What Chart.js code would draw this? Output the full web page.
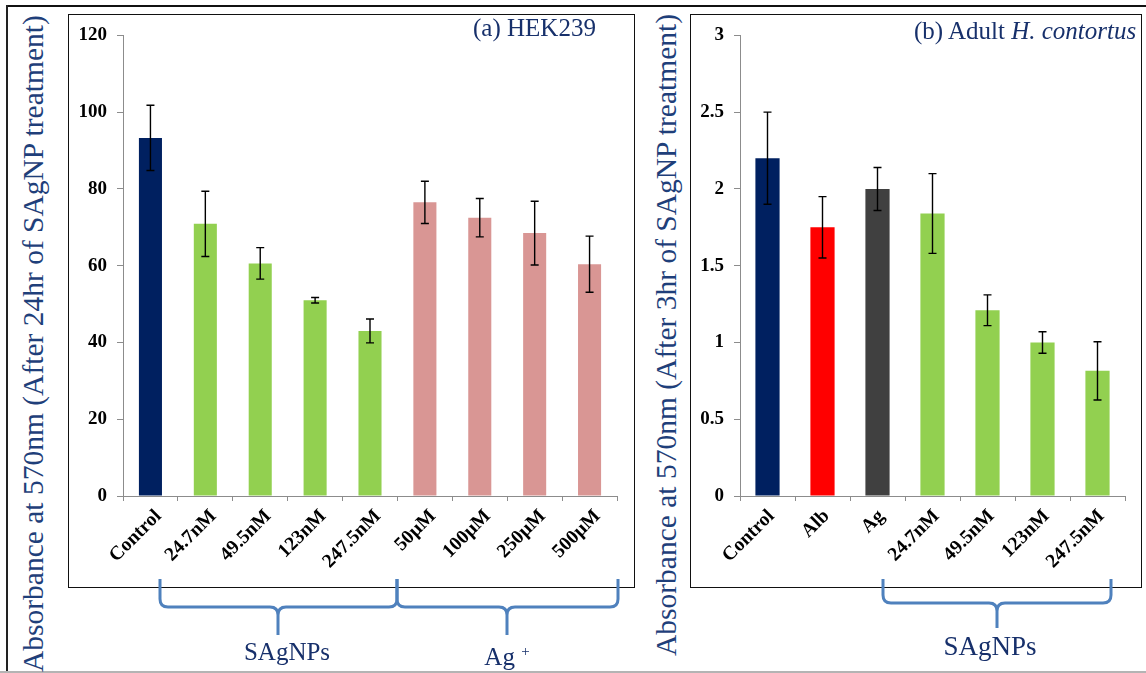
<!DOCTYPE html>
<html>
<head>
<meta charset="utf-8">
<script src="https://cdn.jsdelivr.net/npm/chart.js@4"></script>
<style>
  html, body { margin: 0; padding: 0; background: #fff; }
  body { width: 1146px; height: 673px; overflow: hidden; position: relative; font-family: "Liberation Serif", "Times New Roman", serif; }
  .abs { position: absolute; }
  .box { position: absolute; border: 1.5px solid #111; box-sizing: border-box; }
  .ytitle { position: absolute; white-space: nowrap; font-size: 29.5px; line-height: 29.5px; color: #1f3f7a; transform: rotate(-90deg); transform-origin: 0 0; }
  .panel-title { position: absolute; white-space: nowrap; font-size: 25px; line-height: 25px; color: #17306b; }
  .group-label { position: absolute; white-space: nowrap; color: #17306b; transform: translateX(-50%); }
  canvas { position: absolute; }
</style>
</head>
<body>

<!-- outer frame -->
<div class="abs" style="left:6px;top:5px;width:1140px;height:2px;background:#111;"></div>
<div class="abs" style="left:6px;top:5px;width:2px;height:668px;background:#222;"></div>
<div class="abs" style="left:0;top:671px;width:1146px;height:2px;background:#b4b4b4;"></div>

<!-- panel boxes -->
<div class="box" style="left:68px;top:14px;width:567px;height:574px;"></div>
<div class="box" style="left:690px;top:14px;width:452px;height:574px;"></div>

<canvas id="hekChart" width="567" height="573" style="left:68px;top:14px;"></canvas>
<canvas id="wormChart" width="452" height="573" style="left:690px;top:14px;"></canvas>

<!-- axis titles -->
<div class="ytitle" style="left:19px;top:672px;">Absorbance at 570nm (After 24hr of SAgNP treatment)</div>
<div class="ytitle" style="left:652px;top:656px;">Absorbance at 570nm (After 3hr of SAgNP treatment)</div>

<!-- panel titles -->
<div class="panel-title" style="left:473px;top:15px;">(a) HEK239</div>
<div class="panel-title" style="left:914px;top:18px;">(b) Adult <i>H. contortus</i></div>

<!-- group braces -->
<svg class="abs" style="left:0;top:0;" width="1146" height="673">
  <g fill="none" stroke="#4f81bd" stroke-width="3" stroke-linejoin="round" stroke-linecap="butt">
    <path id="braceA1"/>
    <path id="braceA2"/>
    <path id="braceB1"/>
  </g>
</svg>

<div class="group-label" style="left:287px;top:639px;font-size:25px;line-height:25px;">SAgNPs</div>
<div class="group-label" style="left:507px;top:639px;font-size:25px;line-height:25px;">Ag <sup style="font-size:15px;vertical-align:9px;">+</sup></div>
<div class="group-label" style="left:990px;top:633px;font-size:27px;line-height:27px;">SAgNPs</div>

<script>
// (a) HEK239 cells, absorbance after 24 h
const hekCategories = ['Control', '24.7nM', '49.5nM', '123nM', '247.5nM', '50µM', '100µM', '250µM', '500µM'];
const hekMeans      = [93.3, 70.9, 60.6, 51.0, 43.0, 76.5, 72.5, 68.5, 60.4];
const hekErrors     = [8.5, 8.5, 4.1, 0.7, 3.1, 5.5, 5.0, 8.3, 7.3];
const hekGroups     = ['control', 'sagnp', 'sagnp', 'sagnp', 'sagnp', 'ion', 'ion', 'ion', 'ion'];
const hekTicks      = { min: 0, max: 120, step: 20 };

// (b) adult H. contortus, absorbance after 3 h
const wormCategories = ['Control', 'Alb', 'Ag', '24.7nM', '49.5nM', '123nM', '247.5nM'];
const wormMeans      = [2.20, 1.75, 2.00, 1.84, 1.21, 1.00, 0.815];
const wormErrors     = [0.30, 0.20, 0.14, 0.26, 0.10, 0.07, 0.19];
const wormGroups     = ['control', 'albendazole', 'silver', 'sagnp', 'sagnp', 'sagnp', 'sagnp'];
const wormTicks      = { min: 0, max: 3, step: 0.5 };

const groupColors = {
  control: '#002060',
  sagnp: '#92d050',
  ion: '#d99694',
  albendazole: '#ff0000',
  silver: '#404040'
};

// draws mean ± error whiskers on top of the bars
const errorBars = {
  id: 'errorBars',
  afterDatasetsDraw(chart, args, opts) {
    const { ctx, scales: { x, y } } = chart;
    const means = chart.data.datasets[0].data;
    const errs = opts.errors || [];
    ctx.save();
    ctx.strokeStyle = '#000';
    ctx.lineWidth = 1.4;
    means.forEach((m, i) => {
      const e = errs[i];
      if (e == null) return;
      const px = x.getPixelForValue(i);
      const yt = y.getPixelForValue(m + e);
      const yb = y.getPixelForValue(m - e);
      ctx.beginPath();
      ctx.moveTo(px, yt); ctx.lineTo(px, yb);
      ctx.moveTo(px - 4, yt); ctx.lineTo(px + 4, yt);
      ctx.moveTo(px - 4, yb); ctx.lineTo(px + 4, yb);
      ctx.stroke();
    });
    ctx.restore();
  }
};

function makeChart(id, labels, means, errors, groups, ticks, axisWidth, rightPad, barFrac, labelShift) {
  return new Chart(document.getElementById(id), {
    type: 'bar',
    data: {
      labels: labels,
      datasets: [{
        data: means,
        backgroundColor: groups.map(g => groupColors[g]),
        borderWidth: 0,
        barPercentage: barFrac,
        categoryPercentage: 1
      }]
    },
    options: {
      responsive: false,
      animation: false,
      layout: { padding: { top: 19, right: rightPad, left: 0, bottom: 0 } },
      plugins: {
        legend: { display: false },
        tooltip: { enabled: false },
        errorBars: { errors: errors }
      },
      scales: {
        x: {
          grid: { offset: true, drawOnChartArea: false, drawTicks: true, tickLength: 5, color: '#8c8c8c' },
          border: { display: true, color: '#8c8c8c', width: 1 },
          ticks: {
            color: '#000',
            font: { family: '"Liberation Serif", serif', size: 19.5, weight: 'bold' },
            minRotation: 45, maxRotation: 45,
            padding: 4,
            labelOffset: labelShift,
            autoSkip: false
          },
          afterFit(scale) { scale.height = 91; }
        },
        y: {
          min: ticks.min, max: ticks.max,
          grid: { drawOnChartArea: false, drawTicks: true, tickLength: 6, color: '#8c8c8c' },
          border: { display: true, color: '#8c8c8c', width: 1 },
          ticks: {
            stepSize: ticks.step,
            color: '#000',
            padding: 10,
            font: { family: '"Liberation Serif", serif', size: 19, weight: 'bold' },
            callback: v => String(v)
          },
          afterFit(scale) { scale.width = axisWidth; }
        }
      }
    },
    plugins: [errorBars]
  });
}

makeChart('hekChart', hekCategories, hekMeans, hekErrors, hekGroups, hekTicks, 55, 18, 0.42, 8);
makeChart('wormChart', wormCategories, wormMeans, wormErrors, wormGroups, wormTicks, 50, 17, 0.44, 4);

// curly brace: x0..x1 span, ends at yTop, bar at yMid, tip at yTip below xc
function bracePath(x0, x1, xc, yTop, yMid, yTip) {
  const r = 8;
  return [
    `M ${x0} ${yTop}`,
    `L ${x0} ${yMid - r}`,
    `Q ${x0} ${yMid} ${x0 + r} ${yMid}`,
    `L ${xc - r} ${yMid}`,
    `Q ${xc} ${yMid} ${xc} ${yMid + r}`,
    `L ${xc} ${yTip}`,
    `M ${xc} ${yMid + r}`,
    `Q ${xc} ${yMid} ${xc + r} ${yMid}`,
    `L ${x1 - r} ${yMid}`,
    `Q ${x1} ${yMid} ${x1} ${yMid - r}`,
    `L ${x1} ${yTop}`
  ].join(' ');
}
document.getElementById('braceA1').setAttribute('d', bracePath(160, 397, 278, 579, 607, 635));
document.getElementById('braceA2').setAttribute('d', bracePath(397, 618, 507, 579, 607, 635));
document.getElementById('braceB1').setAttribute('d', bracePath(883, 1111, 997, 579, 603, 628));
</script>
</body>
</html>
